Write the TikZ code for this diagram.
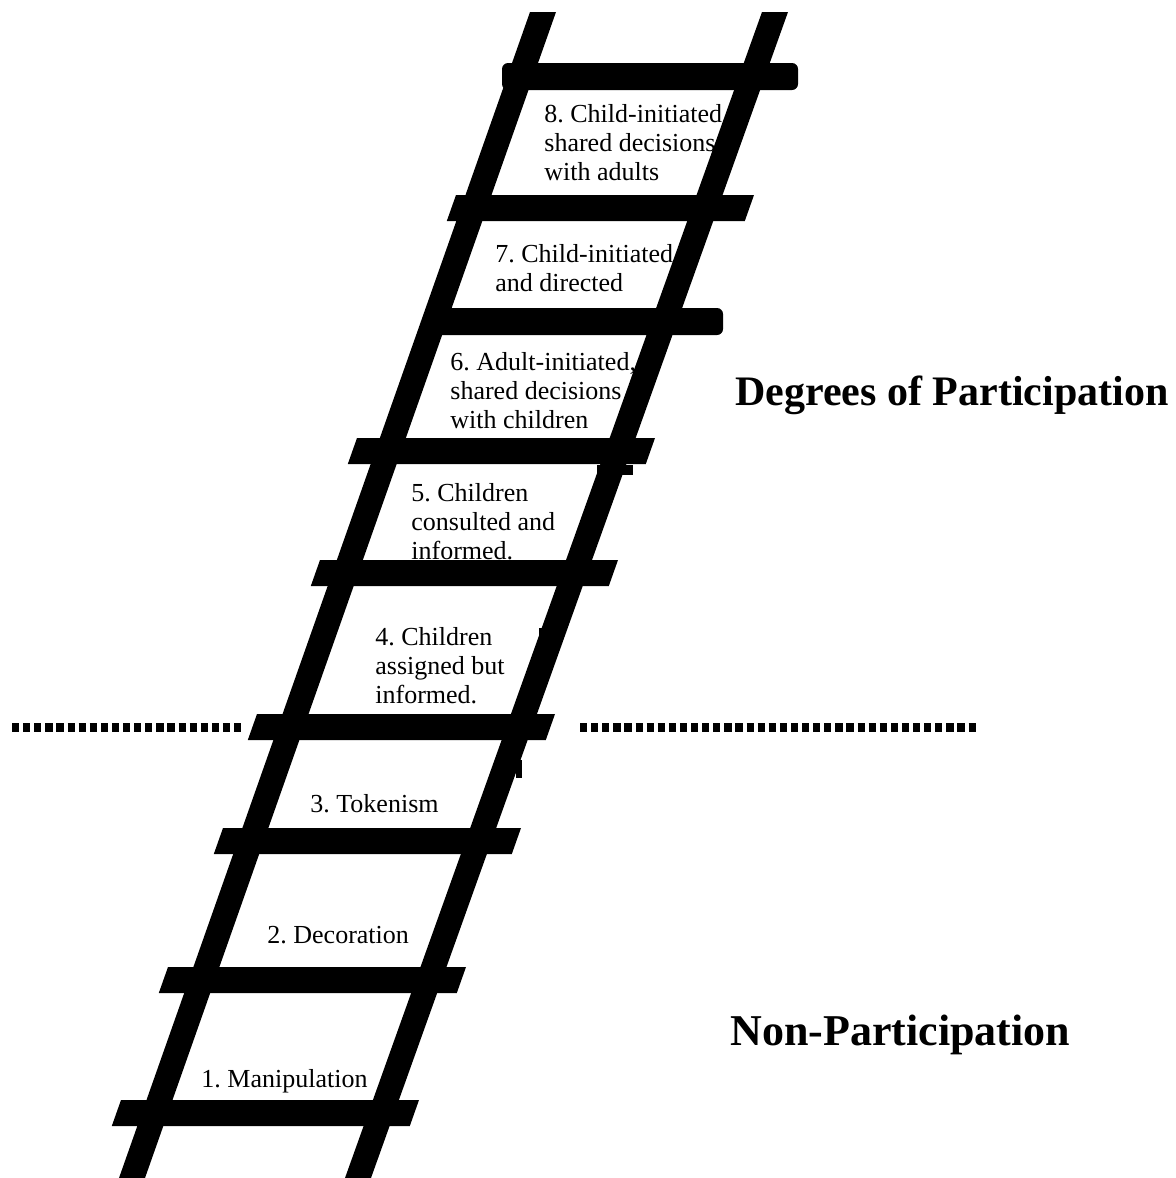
\documentclass[tikz,border=0pt]{standalone}
\usepackage{fontspec}
\setmainfont{Liberation Serif}
\usepackage{tikz}
\usetikzlibrary{positioning}

\begin{document}
\frenchspacing
\begin{tikzpicture}[x=0.5pt, y=-0.5pt,
          lbl/.style={anchor=base west, inner sep=0pt, align=left,
            font=\fontsize{13}{14.3}\selectfont},
          ttl/.style={anchor=base west, inner sep=0pt, font=\bfseries},
          rail/.style={fill=black},
          rung/.style={fill=black},
          sep/.style={line width=4.5pt, dash pattern=on 3.6pt off 1.95pt}]
        \useasboundingbox (0,0) rectangle (1176,1178);
        % labels sit under the ladder (placed by their last baseline)
        \node[lbl] (l8) at (544,180) {8. Child-initiated,\\shared decisions\\with adults};
        \node[lbl] (l7) at (495,291) {7. Child-initiated,\\and directed};
        \node[lbl] (l6) at (450,428) {6. Adult-initiated,\\shared decisions\\with children};
        \node[lbl] (l5) at (411,559) {5. Children\\consulted and\\informed.};
        \node[lbl] (l4) at (375,703) {4. Children\\assigned but\\informed.};
        \node[lbl] (l3) at (310,812) {3. Tokenism};
        \node[lbl] (l2) at (267,943) {2. Decoration};
        \node[lbl] (l1) at (201,1087) {1. Manipulation};
        \node[ttl, font=\bfseries\fontsize{21}{25}\selectfont] (tdeg) at (735,405) {Degrees of Participation};
        \node[ttl, font=\bfseries\fontsize{22}{26}\selectfont] (tnon) at (730,1045) {Non-Participation};
        % rails
        \fill[rail] (530,12) -- (556,12) -- (145,1178) -- (119,1178) -- cycle;
        \fill[rail] (762,12) -- (788,12) -- (371,1178) -- (345,1178) -- cycle;
        \fill[rail] (597,465) rectangle (633,475);
        \fill[rail] (539,628) rectangle (543,644);
        \fill[rail] (516,760) rectangle (522,778);
        % rungs
        \foreach \y/\x in {1100/121, 967/168, 828/223, 714/257, 560/320, 438/357, 195/456}
          \fill[rung] (\x,\y) -- ++(298,0) -- ++(-9.2,26) -- ++(-298,0) -- cycle;
        \fill[rung, rounded corners=3] (426,308) rectangle (723,335);
        \fill[rung, rounded corners=3] (502,63) rectangle (798,90);
        % boundary
        \draw[sep] (12,727.5) -- (241.2,727.5);
        \draw[sep] (580,727.5) -- (975.7,727.5);
      \end{tikzpicture}
\end{document}
